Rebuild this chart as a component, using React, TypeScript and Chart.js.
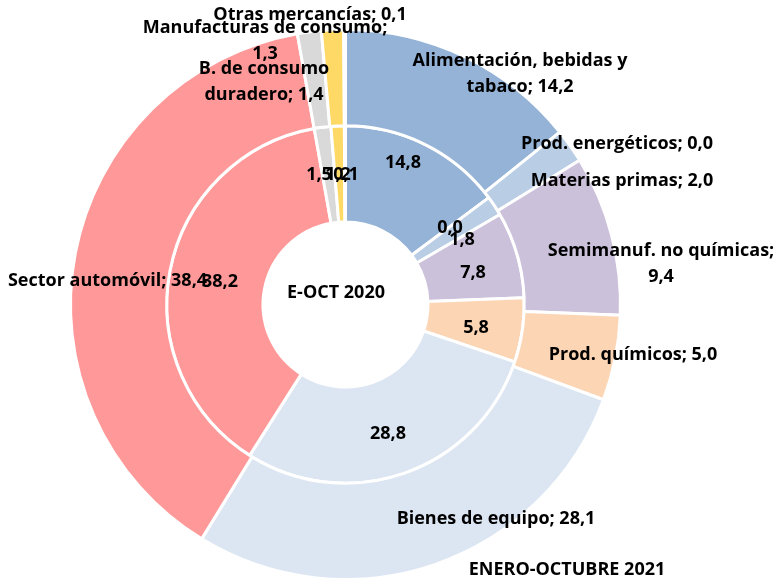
import React, { useEffect, useRef } from "react";
import { Chart, registerables } from "chart.js";

Chart.register(...registerables);

// ---------- data ----------
const categories = [
  "Alimentación, bebidas y tabaco",
  "Prod. energéticos",
  "Materias primas",
  "Semimanuf. no químicas",
  "Prod. químicos",
  "Bienes de equipo",
  "Sector automóvil",
  "B. de consumo duradero",
  "Manufacturas de consumo",
  "Otras mercancías",
];
const values2021 = [14.2, 0.0, 2.0, 9.4, 5.0, 28.1, 38.4, 1.4, 1.3, 0.1];
const values2020 = [14.8, 0.0, 1.8, 7.8, 5.8, 28.8, 38.2, 1.5, 1.2, 0.1];
const outerTitle = "ENERO-OCTUBRE 2021";
const innerTitle = "E-OCT 2020";

// ---------- styles / layout ----------
const sliceColors = [
  "#95B3D7",
  "#C5D9F1",
  "#B9CDE5",
  "#CCC1DA",
  "#FCD5B5",
  "#DCE6F2",
  "#FF9999",
  "#D9D9D9",
  "#FFD966",
  "#F2F2F2",
];
const FONT = "bold 18px 'Open Sans', Lato, sans-serif";
const LINE_H = 26;
// label centres relative to the doughnut centre; brk = words on first line (0 = single line)
const outerLabelLayout = [
  { dx: 174.5, dy: -230.5, brk: 3 },
  { dx: 271.5, dy: -160.5, brk: 0 },
  { dx: 276.5, dy: -123.5, brk: 0 },
  { dx: 315.5, dy: -40.5, brk: 3 },
  { dx: 287.5, dy: 50.5, brk: 0 },
  { dx: 150.5, dy: 214.5, brk: 0 },
  { dx: -238, dy: -24, brk: 0 },
  { dx: -81.5, dy: -222.5, brk: 3 },
  { dx: -80.5, dy: -263.5, brk: 3 },
  { dx: -35.5, dy: -289.5, brk: 0 },
];
const innerLabelLayout = [
  { dx: 57.5, dy: -141.5 },
  { dx: 104.5, dy: -76.5 },
  { dx: 116.5, dy: -64.5 },
  { dx: 127.5, dy: -31.5 },
  { dx: 130.5, dy: 23.5 },
  { dx: 42.5, dy: 129.5 },
  { dx: -125.5, dy: -22.5 },
  { dx: -26.5, dy: -129.5 },
  { dx: -7.5, dy: -129.5 },
  { dx: 0.5, dy: -129.5 },
];
const innerTitlePos = { dx: -9.5, dy: -11.5 };
const outerTitlePos = { dx: 221.5, dy: 265.5 };

const fmt = (v: number) => v.toFixed(1).replace(".", ",");

function splitLines(text: string, brk: number): string[] {
  if (!brk) return [text];
  const words = text.split(" ");
  return [words.slice(0, brk).join(" "), words.slice(brk).join(" ")];
}

const labelPlugin = {
  id: "sliceLabels",
  afterDraw(chart: any) {
    const ctx: CanvasRenderingContext2D = chart.ctx;
    const arc = chart.getDatasetMeta(0).data[0];
    if (!arc) return;
    const cx = arc.x;
    const cy = arc.y;
    ctx.save();
    ctx.font = FONT;
    ctx.fillStyle = "#000000";
    ctx.textAlign = "center";
    ctx.textBaseline = "middle";
    values2020.forEach((v, i) => {
      const p = innerLabelLayout[i];
      ctx.fillText(fmt(v), cx + p.dx, cy + p.dy);
    });
    values2021.forEach((v, i) => {
      const p = outerLabelLayout[i];
      const lines = splitLines(`${categories[i]}; ${fmt(v)}`, p.brk);
      const y0 = cy + p.dy - ((lines.length - 1) * LINE_H) / 2;
      lines.forEach((ln, k) => ctx.fillText(ln, cx + p.dx, y0 + k * LINE_H));
    });
    ctx.fillText(innerTitle, cx + innerTitlePos.dx, cy + innerTitlePos.dy);
    ctx.fillText(outerTitle, cx + outerTitlePos.dx, cy + outerTitlePos.dy);
    ctx.restore();
  },
};

export default function App() {
  const ref = useRef<HTMLCanvasElement>(null);
  useEffect(() => {
    document.body.style.margin = "0";
    const canvas = ref.current;
    if (!canvas) return;
    const chart = new Chart(canvas, {
      type: "doughnut",
      data: {
        labels: categories,
        datasets: [
          {
            label: outerTitle,
            data: values2021,
            backgroundColor: sliceColors,
            borderColor: "#FFFFFF",
            borderWidth: 3,
            hoverBorderWidth: 3,
          },
          {
            label: innerTitle,
            data: values2020,
            backgroundColor: sliceColors,
            borderColor: "#FFFFFF",
            borderWidth: 3,
            hoverBorderWidth: 3,
          },
        ],
      },
      options: {
        responsive: false,
        animation: false,
        devicePixelRatio: 1,
        cutout: "30%",
        layout: { padding: { left: 69, right: 153, top: 28, bottom: 0 } },
        plugins: {
          legend: { display: false },
          tooltip: { enabled: false },
        },
      },
      plugins: [labelPlugin],
    });
    return () => chart.destroy();
  }, []);
  return (
    <div style={{ width: 775, height: 581, background: "#FFFFFF" }}>
      <canvas ref={ref} width={775} height={581} style={{ display: "block" }} />
    </div>
  );
}
